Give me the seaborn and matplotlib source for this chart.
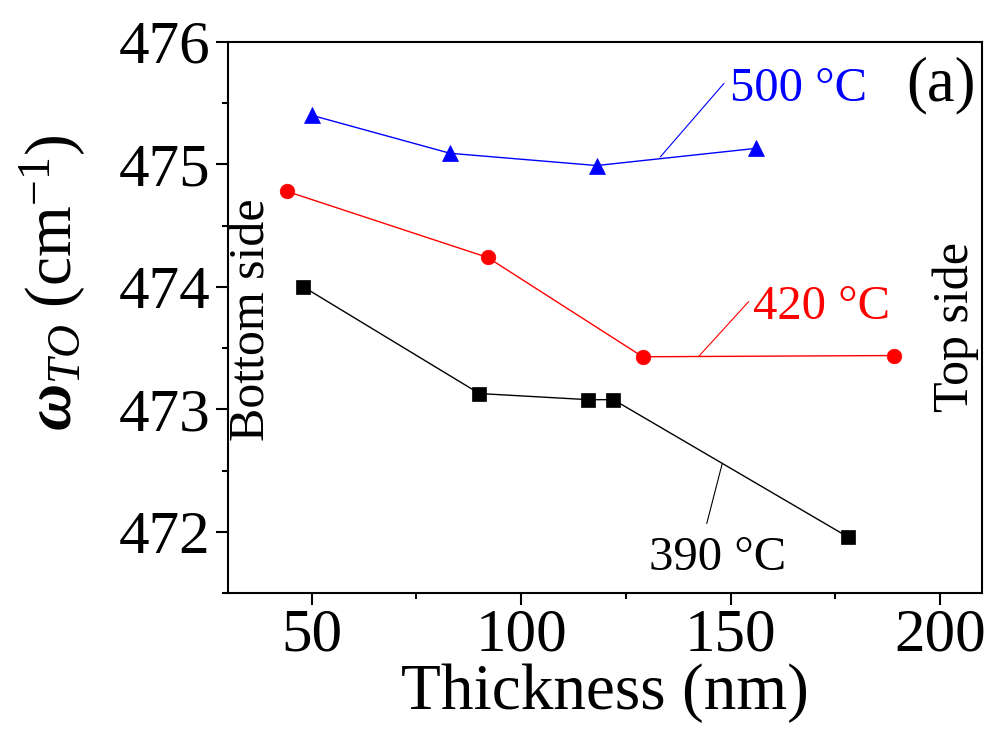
import matplotlib
matplotlib.use("Agg")
import matplotlib.pyplot as plt
from matplotlib.ticker import MultipleLocator
import seaborn as sns
import pandas as pd

# Film thickness (nm) and TO phonon frequency (cm^-1) for each growth temperature
thick_500 = [50, 83, 118, 156]
omega_500 = [475.40, 475.09, 474.99, 475.13]

thick_420 = [44, 92, 129, 189]
omega_420 = [474.78, 474.24, 473.43, 473.44]

thick_390 = [48, 90, 116, 122, 178]
omega_390 = [474.00, 473.13, 473.08, 473.08, 471.96]

series_labels = ["500 °C", "420 °C", "390 °C"]
x_ticks = [50, 100, 150, 200]
y_ticks = [472, 473, 474, 475, 476]

sns.set_theme(style="ticks")
plt.rcParams["font.family"] = ["Liberation Serif", "DejaVu Serif"]
plt.rcParams["mathtext.fontset"] = "custom"
plt.rcParams["mathtext.rm"] = "Liberation Serif"
plt.rcParams["mathtext.it"] = "Liberation Serif:italic"
plt.rcParams["mathtext.bf"] = "Liberation Serif:bold"
plt.rcParams["mathtext.bfit"] = "Liberation Serif:italic:bold"
plt.rcParams["text.color"] = "black"
plt.rcParams["xtick.color"] = "black"
plt.rcParams["ytick.color"] = "black"
plt.rcParams["axes.labelcolor"] = "black"

fig = plt.figure(figsize=(9.93, 7.44), dpi=100)
ax = fig.add_axes([0.2296, 0.2025, 0.7593, 0.7414])

styles = [
    (thick_500, omega_500, "blue", "^", 12),
    (thick_420, omega_420, "red", "o", 10.5),
    (thick_390, omega_390, "black", "s", 9.5),
]
for (xs, ys, col, mk, ms), lab in zip(styles, series_labels):
    df = pd.DataFrame({"x": xs, "y": ys})
    sns.lineplot(data=df, x="x", y="y", color=col, marker=mk, markersize=ms,
                 markeredgecolor=col, markeredgewidth=0.5, linewidth=1.0,
                 sort=False, estimator=None, ax=ax)

ax.set_xlim(30, 210)
ax.set_ylim(471.5, 476)
ax.set_xticks(x_ticks)
ax.set_yticks(y_ticks)
ax.xaxis.set_minor_locator(MultipleLocator(25))
ax.yaxis.set_minor_locator(MultipleLocator(0.5))
ax.tick_params(which="major", direction="out", length=8.5, width=1.5,
               labelsize=44)
ax.tick_params(axis="y", which="major", pad=4)
ax.tick_params(axis="x", which="major", pad=2)
ax.tick_params(which="minor", direction="out", length=4.5, width=1.5)
for sp in ax.spines.values():
    sp.set_linewidth(1.5)
    sp.set_color("black")

ax.set_xlabel("Thickness (nm)", fontsize=47, labelpad=0)
ax.set_ylabel(r"$\boldsymbol{\omega}_{TO}$ (cm$^{-1}$)", fontsize=47)
ax.yaxis.set_label_coords(-0.186, 0.5625)

# Temperature labels with thin leader lines to their curves
leaders = [
    ((133.2, 475.06), (148.4, 475.66), "blue"),
    ((142.3, 473.43), (154.3, 473.88), "red"),
    ((148.0, 472.56), (144.3, 472.07), "black"),
]
for start, end, col in leaders:
    ax.annotate("", xy=end, xytext=start,
                arrowprops=dict(arrowstyle="-", color=col, lw=0.8,
                                shrinkA=0, shrinkB=0))
ax.text(149.8, 475.52, series_labels[0], color="blue", fontsize=35,
        ha="left", va="baseline")
ax.text(155.4, 473.74, series_labels[1], color="red", fontsize=35,
        ha="left", va="baseline")
ax.text(146.9, 471.69, series_labels[2], color="black", fontsize=35,
        ha="center", va="baseline")

ax.text(0.945, 0.9215, "(a)", transform=ax.transAxes, fontsize=45,
        ha="center", va="center")
ax.text(0.032, 0.496, "Bottom side", transform=ax.transAxes, fontsize=36,
        rotation=90, ha="center", va="center")
ax.text(0.965, 0.482, "Top side", transform=ax.transAxes, fontsize=36,
        rotation=90, ha="center", va="center")

fig.savefig("out.png", dpi=100)
